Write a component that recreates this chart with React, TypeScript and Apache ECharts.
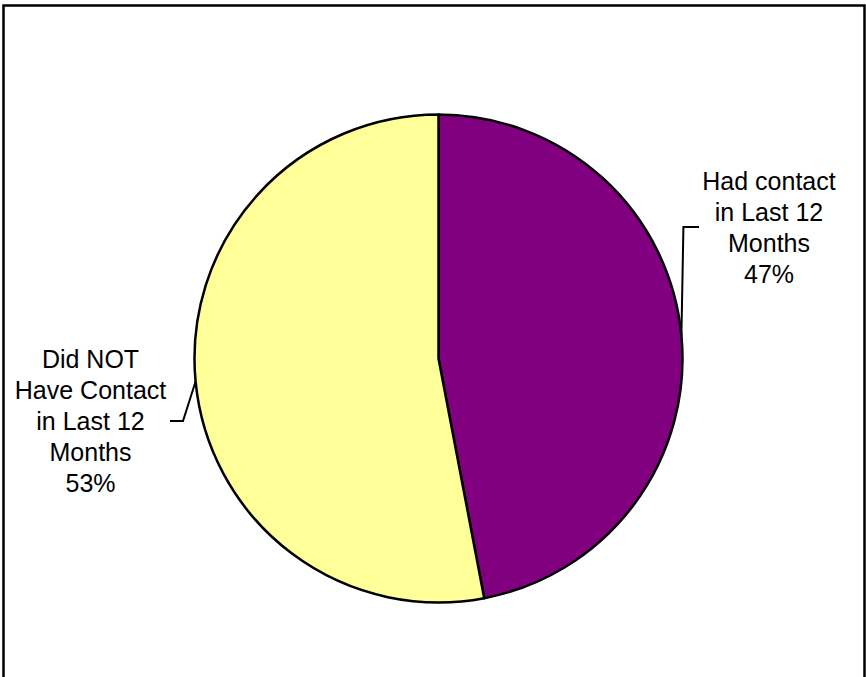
import React, { useEffect, useRef } from "react";
import * as echarts from "echarts";

const categories = ["Had contact\nin Last 12\nMonths", "Did NOT\nHave Contact\nin Last 12\nMonths"];
const values = [47, 53];
const colors = ["#800080", "#FFFF99"];

export default function App() {
  const ref = useRef<HTMLDivElement>(null);
  useEffect(() => {
    if (!ref.current) return;
    const chart = echarts.init(ref.current, null, { renderer: "svg" });
    chart.setOption({
      animation: false,
      backgroundColor: "#ffffff",
      graphic: [
        {
          type: "rect",
          shape: { x: 3.5, y: 5.5, width: 861, height: 700 },
          style: { fill: "none", stroke: "#000", lineWidth: 2.5 },
          silent: true,
        },
      ],
      series: [
        {
          type: "pie",
          center: [438.5, 358.5],
          radius: 244,
          startAngle: 90,
          clockwise: true,
          emphasis: { disabled: true },
          silent: true,
          itemStyle: { borderColor: "#000", borderWidth: 2.5 },
          label: {
            show: true,
            position: "outside",
            formatter: "{b}\n{d}%",
            fontFamily: "Liberation Sans, Arial, sans-serif",
            fontSize: 25,
            lineHeight: 31,
            color: "#000",
            align: "center",
            width: 180,
            overflow: "none",
          },
          labelLine: {
            show: true,
            lineStyle: { color: "#000", width: 2 },
            length: 20,
            length2: 10,
          },
          labelLayout: (params: any) => {
            const p0 = params.labelLinePoints ? params.labelLinePoints[0] : [0, 0];
            if (params.dataIndex === 0) {
              const cx = 769;
              const cy = 227;
              return {
                x: cx,
                y: cy,
                align: "center",
                verticalAlign: "middle",
                labelLinePoints: [p0, [p0[0] + 2, cy], [699, cy]],
              };
            }
            const cx = 90.5;
            const cy = 421;
            return {
              x: cx,
              y: cy,
              align: "center",
              verticalAlign: "middle",
              labelLinePoints: [p0, [183, cy], [170, cy]],
            };
          },
          data: categories.map((name, i) => ({
            name,
            value: values[i],
            itemStyle: { color: colors[i] },
          })),
        },
      ],
    });
    return () => chart.dispose();
  }, []);
  return (
    <div
      ref={ref}
      style={{ position: "absolute", left: 0, top: 0, width: 866, height: 677 }}
    />
  );
}
